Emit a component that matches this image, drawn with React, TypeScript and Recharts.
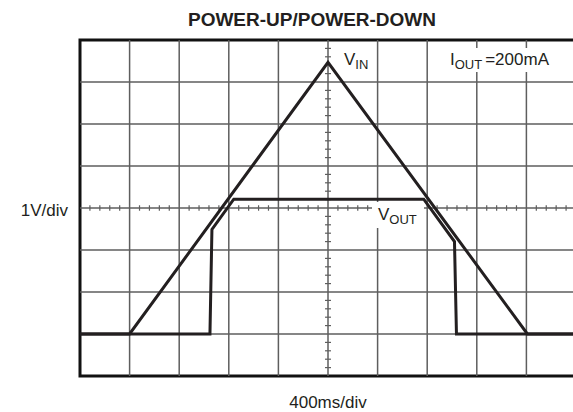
import { LineChart, Line, XAxis, YAxis, ReferenceLine, ReferenceArea } from "recharts";

// scope screen: 10 divisions across, 8 divisions high, centre at (5, 0)
const GRID_X = [1, 2, 3, 4, 6, 7, 8, 9];
const GRID_Y = [-3, -2, -1, 1, 2, 3];

const VIN = [
  { x: 0, v: -3 },
  { x: 1, v: -3 },
  { x: 5, v: 3.47 },
  { x: 9.02, v: -3 },
  { x: 10, v: -3 },
];

const VOUT = [
  { x: 0, v: -3 },
  { x: 2.62, v: -3 },
  { x: 2.66, v: -0.51 },
  { x: 3.1, v: 0.21 },
  { x: 6.93, v: 0.21 },
  { x: 7.55, v: -0.8 },
  { x: 7.59, v: -3 },
  { x: 10, v: -3 },
];

const TITLE = "POWER-UP/POWER-DOWN";
const Y_LABEL = "1V/div";
const X_LABEL = "400ms/div";

const minorX = Array.from({ length: 51 }, (_, i) => i * 0.2).filter((t) => Math.abs(t - Math.round(t)) > 0.01);
const minorY = Array.from({ length: 41 }, (_, i) => -4 + i * 0.2).filter((t) => Math.abs(t - Math.round(t)) > 0.01);

const INK = "#231f20";
const GRID = "#5e5e5e";
const FONT = "'Liberation Sans', Arial, sans-serif";

export default function App() {
  return (
    <div style={{ position: "absolute", left: 0, top: 0, width: 573, height: 412, overflow: "hidden", background: "#fff" }}>
      <LineChart width={590} height={412} margin={{ top: 40, left: 80, right: 14, bottom: 36 }}>
        <XAxis type="number" dataKey="x" domain={[0, 10]} hide allowDuplicatedCategory={false} />
        <YAxis type="number" dataKey="v" domain={[-4, 4]} hide />
        {GRID_X.map((x) => (
          <ReferenceLine key={"gx" + x} x={x} stroke={GRID} strokeWidth={1.5} />
        ))}
        {GRID_Y.map((y) => (
          <ReferenceLine key={"gy" + y} y={y} stroke={GRID} strokeWidth={1.5} />
        ))}
        <ReferenceLine x={5} stroke={GRID} strokeWidth={1.5} />
        <ReferenceLine y={0} stroke={GRID} strokeWidth={1.5} />
        {minorX.map((t) => (
          <ReferenceLine
            key={"mx" + t}
            segment={[{ x: t, y: -0.065 }, { x: t, y: 0.065 }]}
            stroke={GRID}
            strokeWidth={1.2}
          />
        ))}
        {minorY.map((t) => (
          <ReferenceLine
            key={"my" + t}
            segment={[{ x: 4.94, y: t }, { x: 5.06, y: t }]}
            stroke={GRID}
            strokeWidth={1.2}
          />
        ))}
        <ReferenceArea x1={0} x2={10} y1={-4} y2={4} fill="none" stroke="#111" strokeWidth={3} />
        <Line data={VIN} dataKey="v" type="linear" stroke={INK} strokeWidth={3} dot={false} isAnimationActive={false} strokeLinejoin="miter" />
        <Line data={VOUT} dataKey="v" type="linear" stroke={INK} strokeWidth={3} dot={false} isAnimationActive={false} strokeLinejoin="miter" />
      </LineChart>
      <svg width={573} height={412} style={{ position: "absolute", left: 0, top: 0, pointerEvents: "none" }}>
        {/* white knock-outs behind the in-plot labels, as in the scope print */}
        <rect x={447} y={48} width={110} height={24} fill="#fff" />
        <rect x={372} y={202} width={52} height={26} fill="#fff" />
        <g fontFamily={FONT} fill="#231f20">
          <text x={312} y={26} fontSize={19} fontWeight="bold" textAnchor="middle">
            {TITLE}
          </text>
          <text x={68} y={216} fontSize={17} textAnchor="end">
            {Y_LABEL}
          </text>
          <text x={328} y={408} fontSize={17} textAnchor="middle">
            {X_LABEL}
          </text>
          <text x={344} y={65} fontSize={17}>
            V<tspan fontSize={13} dy={4}>IN</tspan>
          </text>
          <text x={450} y={65} fontSize={17}>
            I<tspan fontSize={13} dy={4}>OUT</tspan>
            <tspan dy={-4} dx={3}>=200mA</tspan>
          </text>
          <text x={378} y={220} fontSize={17}>
            V<tspan fontSize={13} dy={4}>OUT</tspan>
          </text>
        </g>
      </svg>
    </div>
  );
}
